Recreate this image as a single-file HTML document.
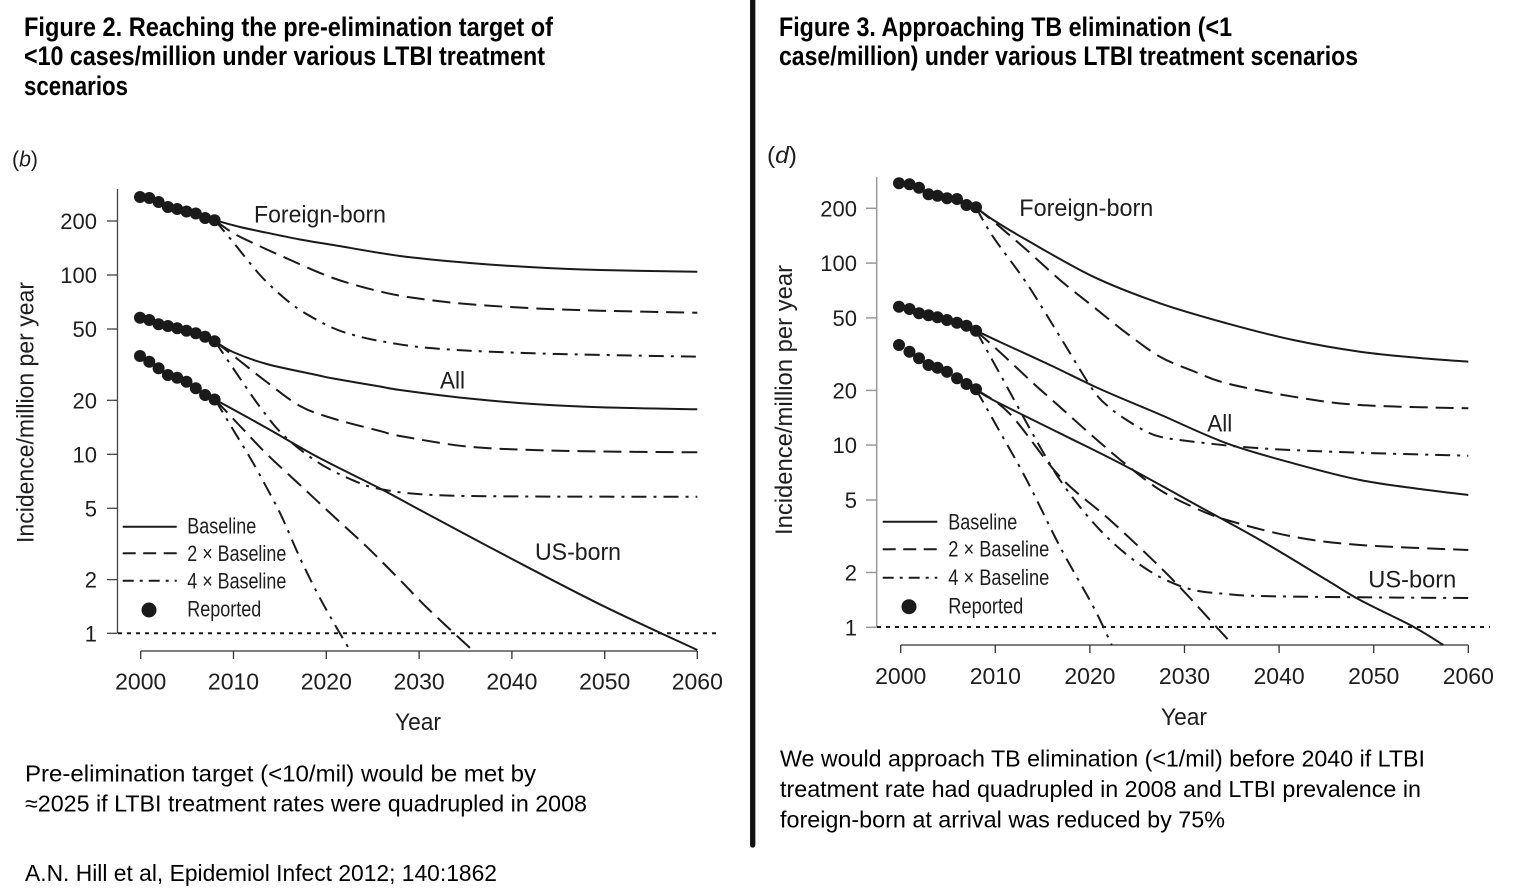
<!DOCTYPE html>
<html><head><meta charset="utf-8">
<style>
html,body{margin:0;padding:0;background:#fff;}
svg{display:block;}
text{font-family:"Liberation Sans",Arial,sans-serif;fill:#1e1e1e;}
.t{font-weight:bold;fill:#000;font-size:27px;}
.c{font-size:23px;fill:#000;}
.tk{font-size:22px;}
.xt{font-size:23px;}
.lg{font-size:22px;}
.sl{font-size:24px;}
.ln{fill:none;stroke:#1a1a1a;stroke-width:2;stroke-linejoin:round;stroke-linecap:butt;}
.da{stroke-dasharray:18 8;}
.dd{stroke-dasharray:15 7 3 7;}
.dot{fill:#1a1a1a;}
</style></head>
<body>
<svg id="chart" width="1524" height="894" viewBox="0 0 1524 894" xmlns="http://www.w3.org/2000/svg">
<rect width="1524" height="894" fill="#fff"/>

<!-- Titles -->
<text class="t" x="24" y="36" textLength="529" lengthAdjust="spacingAndGlyphs">Figure 2. Reaching the pre-elimination target of</text>
<text class="t" x="24" y="65" textLength="521" lengthAdjust="spacingAndGlyphs">&lt;10 cases/million under various LTBI treatment</text>
<text class="t" x="24" y="95" textLength="104" lengthAdjust="spacingAndGlyphs">scenarios</text>
<text class="t" x="779" y="36" textLength="453" lengthAdjust="spacingAndGlyphs">Figure 3. Approaching TB elimination (&lt;1</text>
<text class="t" x="779" y="65" textLength="579" lengthAdjust="spacingAndGlyphs">case/million) under various LTBI treatment scenarios</text>

<!-- Divider -->
<line x1="752.7" y1="0" x2="752.7" y2="845" stroke="#111" stroke-width="5.3" stroke-linecap="round"/>

<!-- ============ LEFT CHART ============ -->
<text x="12" y="166.7" font-size="22" textLength="26" lengthAdjust="spacingAndGlyphs">(<tspan font-style="italic">b</tspan>)</text>

<g stroke="#444" stroke-width="1.3">
<line x1="117.5" y1="189" x2="117.5" y2="633.3"/>
<line x1="107" y1="221" x2="117.5" y2="221"/>
<line x1="107" y1="275" x2="117.5" y2="275"/>
<line x1="107" y1="329" x2="117.5" y2="329"/>
<line x1="107" y1="400.3" x2="117.5" y2="400.3"/>
<line x1="107" y1="454.3" x2="117.5" y2="454.3"/>
<line x1="107" y1="508.3" x2="117.5" y2="508.3"/>
<line x1="107" y1="579.6" x2="117.5" y2="579.6"/>
<line x1="107" y1="633.3" x2="117.5" y2="633.3"/>
</g>
<g text-anchor="end">
<text class="tk" x="97" y="229">200</text>
<text class="tk" x="97" y="283">100</text>
<text class="tk" x="97" y="337">50</text>
<text class="tk" x="97" y="408.3">20</text>
<text class="tk" x="97" y="462.3">10</text>
<text class="tk" x="97" y="516.3">5</text>
<text class="tk" x="97" y="587.6">2</text>
<text class="tk" x="97" y="641.3">1</text>
</g>
<text class="sl" transform="translate(33.5,412.5) rotate(-90)" text-anchor="middle" font-size="29" textLength="261" lengthAdjust="spacingAndGlyphs">Incidence/million per year</text>

<g stroke="#333" stroke-width="1.3">
<line x1="140.7" y1="651" x2="697.3" y2="651"/>
<line x1="140.7" y1="651" x2="140.7" y2="659"/>
<line x1="233.5" y1="651" x2="233.5" y2="659"/>
<line x1="326.3" y1="651" x2="326.3" y2="659"/>
<line x1="419.1" y1="651" x2="419.1" y2="659"/>
<line x1="511.9" y1="651" x2="511.9" y2="659"/>
<line x1="604.7" y1="651" x2="604.7" y2="659"/>
<line x1="697.3" y1="651" x2="697.3" y2="659"/>
</g>
<g text-anchor="middle">
<text class="xt" x="140.7" y="689.3">2000</text>
<text class="xt" x="233.5" y="689.3">2010</text>
<text class="xt" x="326.3" y="689.3">2020</text>
<text class="xt" x="419.1" y="689.3">2030</text>
<text class="xt" x="511.9" y="689.3">2040</text>
<text class="xt" x="604.7" y="689.3">2050</text>
<text class="xt" x="697.3" y="689.3">2060</text>
<text class="sl" x="418" y="730" textLength="46" lengthAdjust="spacingAndGlyphs">Year</text>
</g>

<line x1="118" y1="633.3" x2="718" y2="633.3" stroke="#1a1a1a" stroke-width="2" stroke-dasharray="4 5"/>

<polyline class="ln" points="215,220.3 240,227 266.7,232.7 300,239.5 333.3,245 400,256 466.7,262.7 533.3,267.3 600,270 697.3,271.7"/>
<polyline class="ln da" points="215,220.3 233,233 253,243 283,256.7 333,278 380,291.5 416.7,298.3 466.7,304 533.3,308.3 600,310.7 697.3,312.7"/>
<polyline class="ln dd" points="215,220.3 233,242 260,275 283,297 300,310 317,320 333,328 350,334 380,341 433,348.3 533,353.3 697.3,356.7"/>

<polyline class="ln" points="215,341.3 233,352 266.7,364 316.7,375 333.3,378.5 380,386.5 400,390 466.7,398.3 533.3,404 600,407.3 697.3,409.3"/>
<polyline class="ln da" points="215,341.3 240,361 266.7,382 300,406 333,418.5 380,431 400,436 466.7,446.5 533,450 600,451.5 697.3,452.3"/>
<polyline class="ln dd" points="215,341.3 233.3,368.5 260,407 283.3,435 316.7,461.5 350,479 380,489 433,495 533,496.5 697.3,496.7"/>

<polyline class="ln" points="215,399.5 266.7,428 316.7,456.5 380,488.5 420,510 512,559 604.7,606.7 697.3,650"/>
<polyline class="ln da" points="215,399.5 240,426 266.7,454 300,485 333.3,516 366.7,546.7 400,580 428.3,609 473.3,651"/>
<polyline class="ln dd" points="215,399.5 233.3,430 253.3,463.3 273.3,500 283.3,520 300,558 316.7,592 333.3,622 350.4,651"/>

<g class="dot">
<circle cx="140" cy="197" r="6"/><circle cx="149.3" cy="198" r="6"/><circle cx="158.6" cy="202" r="6"/><circle cx="167.9" cy="207" r="6"/><circle cx="177.2" cy="209" r="6"/><circle cx="186.5" cy="211.5" r="6"/><circle cx="195.8" cy="213.5" r="6"/><circle cx="205.1" cy="218" r="6"/><circle cx="214.6" cy="220.3" r="6"/>
<circle cx="140" cy="317.7" r="6"/><circle cx="149.3" cy="320" r="6"/><circle cx="158.6" cy="324.3" r="6"/><circle cx="167.9" cy="326" r="6"/><circle cx="177.2" cy="328.3" r="6"/><circle cx="186.5" cy="330.7" r="6"/><circle cx="195.8" cy="333.3" r="6"/><circle cx="205.1" cy="336.7" r="6"/><circle cx="214.6" cy="341.3" r="6"/>
<circle cx="140" cy="356" r="6"/><circle cx="149.3" cy="361.7" r="6"/><circle cx="158.6" cy="368.3" r="6"/><circle cx="167.9" cy="375" r="6"/><circle cx="177.2" cy="377.7" r="6"/><circle cx="186.5" cy="381.7" r="6"/><circle cx="195.8" cy="388.3" r="6"/><circle cx="205.1" cy="395" r="6"/><circle cx="214.6" cy="399.5" r="6"/>
</g>

<text class="sl" x="254" y="222.5" textLength="132" lengthAdjust="spacingAndGlyphs">Foreign-born</text>
<text class="sl" x="440" y="388.3" textLength="25" lengthAdjust="spacingAndGlyphs">All</text>
<text class="sl" x="535" y="560" textLength="86" lengthAdjust="spacingAndGlyphs">US-born</text>

<line class="ln" x1="122.7" y1="526.7" x2="176.7" y2="526.7"/>
<line class="ln" x1="122.7" y1="553.3" x2="176.7" y2="553.3" stroke-dasharray="13 7.5"/>
<line class="ln" x1="122.7" y1="580.7" x2="176.7" y2="580.7" stroke-dasharray="11 6 3 6"/>
<circle class="dot" cx="149" cy="610" r="7.5"/>
<text class="lg" x="187.3" y="533.3" textLength="69" lengthAdjust="spacingAndGlyphs">Baseline</text>
<text class="lg" x="187.3" y="561" textLength="99" lengthAdjust="spacingAndGlyphs">2 × Baseline</text>
<text class="lg" x="187.3" y="588.3" textLength="99" lengthAdjust="spacingAndGlyphs">4 × Baseline</text>
<text class="lg" x="187.3" y="616.7" textLength="74" lengthAdjust="spacingAndGlyphs">Reported</text>

<!-- ============ RIGHT CHART ============ -->
<text x="767" y="163" font-size="23" textLength="30" lengthAdjust="spacingAndGlyphs">(<tspan font-style="italic">d</tspan>)</text>

<g stroke="#999" stroke-width="1.5">
<line x1="876.7" y1="176.7" x2="876.7" y2="627.3"/>
<line x1="866" y1="208.3" x2="876.7" y2="208.3"/>
<line x1="866" y1="263.1" x2="876.7" y2="263.1"/>
<line x1="866" y1="317.9" x2="876.7" y2="317.9"/>
<line x1="866" y1="390.4" x2="876.7" y2="390.4"/>
<line x1="866" y1="445.1" x2="876.7" y2="445.1"/>
<line x1="866" y1="500" x2="876.7" y2="500"/>
<line x1="866" y1="572.5" x2="876.7" y2="572.5"/>
<line x1="866" y1="627.3" x2="876.7" y2="627.3"/>
</g>
<g text-anchor="end">
<text class="tk" x="857" y="216.3">200</text>
<text class="tk" x="857" y="271.1">100</text>
<text class="tk" x="857" y="325.9">50</text>
<text class="tk" x="857" y="398.4">20</text>
<text class="tk" x="857" y="453.1">10</text>
<text class="tk" x="857" y="508">5</text>
<text class="tk" x="857" y="580.5">2</text>
<text class="tk" x="857" y="635.3">1</text>
</g>
<text class="sl" transform="translate(792,400) rotate(-90)" text-anchor="middle" font-size="29" textLength="270" lengthAdjust="spacingAndGlyphs">Incidence/million per year</text>

<g stroke="#333" stroke-width="1.3">
<line x1="900.7" y1="645" x2="1468.3" y2="645"/>
<line x1="900.7" y1="645" x2="900.7" y2="653"/>
<line x1="995.3" y1="645" x2="995.3" y2="653"/>
<line x1="1089.9" y1="645" x2="1089.9" y2="653"/>
<line x1="1184.5" y1="645" x2="1184.5" y2="653"/>
<line x1="1279.1" y1="645" x2="1279.1" y2="653"/>
<line x1="1373.7" y1="645" x2="1373.7" y2="653"/>
<line x1="1468.3" y1="645" x2="1468.3" y2="653"/>
</g>
<g text-anchor="middle">
<text class="xt" x="900.7" y="684">2000</text>
<text class="xt" x="995.3" y="684">2010</text>
<text class="xt" x="1089.9" y="684">2020</text>
<text class="xt" x="1184.5" y="684">2030</text>
<text class="xt" x="1279.1" y="684">2040</text>
<text class="xt" x="1373.7" y="684">2050</text>
<text class="xt" x="1468.3" y="684">2060</text>
<text class="sl" x="1184" y="725" textLength="46" lengthAdjust="spacingAndGlyphs">Year</text>
</g>

<line x1="877" y1="627" x2="1490" y2="627" stroke="#1a1a1a" stroke-width="2" stroke-dasharray="4 5"/>

<polyline class="ln" points="976,207.3 993.3,220 1026.7,240 1093.3,276.7 1160,303.3 1226.7,323.3 1293.3,340 1360,351.7 1420,358 1468.3,361.7"/>
<polyline class="ln da" points="976,207.3 1000,227 1026.7,250 1060,280 1093.3,306.7 1126.7,333.3 1160,356.7 1193,371 1226.7,383.3 1293.3,396.7 1360,405 1468.3,408.3"/>
<polyline class="ln dd" points="976,207.3 993,236.7 1026.7,283.3 1060,336.7 1093,390 1110,408 1126.7,420 1143.3,430 1160,436.7 1193.3,441.7 1260,448.3 1360,452.7 1468.3,455.7"/>

<polyline class="ln" points="976,330.7 1000,342 1050,365 1100,389 1160,414.5 1226.7,443.3 1293.3,463.3 1360,480 1420,489 1468.3,495"/>
<polyline class="ln da" points="976,330.7 1003,355 1033.3,383.3 1060,407 1093.3,436.7 1126.7,465 1160,490 1193,507 1226.7,520 1293.3,536.7 1360,545 1468.3,550"/>
<polyline class="ln dd" points="976,330.7 1003.3,380 1026.7,423 1043,452 1060,480 1080,507 1100,530 1120,549 1143.3,567 1166,580 1193.3,590 1226,594 1260,596 1360,597.3 1468.3,598"/>

<polyline class="ln" points="976,389.3 993,400 1060,433.3 1126.7,466.7 1193.3,503.3 1260,540 1326.7,580 1360,600 1413.3,626.7 1443.3,645"/>
<polyline class="ln da" points="976,389.3 1010,414 1060,476.7 1110,520 1160,567 1190,598 1210,620 1233,645"/>
<polyline class="ln dd" points="976,389.3 1000,432 1026.7,480 1060,546.7 1093.3,606.7 1111.7,645"/>

<g class="dot">
<circle cx="899" cy="183.3" r="6"/><circle cx="909.5" cy="184.3" r="6"/><circle cx="919" cy="187.7" r="6"/><circle cx="928.5" cy="194.3" r="6"/><circle cx="937.5" cy="195.7" r="6"/><circle cx="947" cy="198.3" r="6"/><circle cx="957" cy="199" r="6"/><circle cx="966.5" cy="205" r="6"/><circle cx="976" cy="207.3" r="6"/>
<circle cx="899" cy="306.7" r="6"/><circle cx="909.5" cy="309" r="6"/><circle cx="919" cy="313.3" r="6"/><circle cx="928.5" cy="315.3" r="6"/><circle cx="937.5" cy="317.3" r="6"/><circle cx="947" cy="320" r="6"/><circle cx="957" cy="322.7" r="6"/><circle cx="966.5" cy="325.7" r="6"/><circle cx="976" cy="330.7" r="6"/>
<circle cx="899" cy="345" r="6"/><circle cx="909.5" cy="351.7" r="6"/><circle cx="919" cy="358.3" r="6"/><circle cx="928.5" cy="365" r="6"/><circle cx="937.5" cy="367.7" r="6"/><circle cx="947" cy="371.7" r="6"/><circle cx="957" cy="378.3" r="6"/><circle cx="966.5" cy="384" r="6"/><circle cx="976" cy="389.3" r="6"/>
</g>

<text class="sl" x="1019.3" y="216" textLength="134" lengthAdjust="spacingAndGlyphs">Foreign-born</text>
<text class="sl" x="1207.3" y="431.7" textLength="25" lengthAdjust="spacingAndGlyphs">All</text>
<text class="sl" x="1368.3" y="587.3" textLength="88" lengthAdjust="spacingAndGlyphs">US-born</text>

<line class="ln" x1="882.7" y1="521.7" x2="937.3" y2="521.7"/>
<line class="ln" x1="882.7" y1="549.3" x2="937.3" y2="549.3" stroke-dasharray="13 7.5"/>
<line class="ln" x1="882.7" y1="577.7" x2="937.3" y2="577.7" stroke-dasharray="11 6 3 6"/>
<circle class="dot" cx="909" cy="606.7" r="7.5"/>
<text class="lg" x="948.3" y="529.3" textLength="69" lengthAdjust="spacingAndGlyphs">Baseline</text>
<text class="lg" x="948.3" y="556.7" textLength="101" lengthAdjust="spacingAndGlyphs">2 × Baseline</text>
<text class="lg" x="948.3" y="585" textLength="101" lengthAdjust="spacingAndGlyphs">4 × Baseline</text>
<text class="lg" x="948.3" y="613.3" textLength="75" lengthAdjust="spacingAndGlyphs">Reported</text>

<!-- Captions -->
<text class="c" x="25" y="781.5" textLength="511" lengthAdjust="spacingAndGlyphs">Pre-elimination target (&lt;10/mil) would be met by</text>
<text class="c" x="25" y="811.5" textLength="562" lengthAdjust="spacingAndGlyphs">≈2025 if LTBI treatment rates were quadrupled in 2008</text>
<text class="c" x="25" y="881" textLength="472" lengthAdjust="spacingAndGlyphs">A.N. Hill et al, Epidemiol Infect 2012; 140:1862</text>

<text class="c" x="780" y="766.7" textLength="645" lengthAdjust="spacingAndGlyphs">We would approach TB elimination (&lt;1/mil) before 2040 if LTBI</text>
<text class="c" x="780" y="797" textLength="641" lengthAdjust="spacingAndGlyphs">treatment rate had quadrupled in 2008 and LTBI prevalence in</text>
<text class="c" x="780" y="827.3" textLength="445" lengthAdjust="spacingAndGlyphs">foreign-born at arrival was reduced by 75%</text>
</svg>
<script>
(function(){
  var ns="http://www.w3.org/2000/svg";
  var pls=document.querySelectorAll("polyline.ln");
  for(var k=0;k<pls.length;k++){
    var pl=pls[k];
    var raw=pl.getAttribute("points").trim().split(/\s+/).map(function(s){var a=s.split(",");return [parseFloat(a[0]),parseFloat(a[1])];});
    if(raw.length<3) continue;
    var d="M"+raw[0][0]+","+raw[0][1];
    for(var i=0;i<raw.length-1;i++){
      var p0=raw[i>0?i-1:i],p1=raw[i],p2=raw[i+1],p3=raw[i+2<raw.length?i+2:i+1];
      var c1x=p1[0]+(p2[0]-p0[0])/6,c1y=p1[1]+(p2[1]-p0[1])/6;
      var c2x=p2[0]-(p3[0]-p1[0])/6,c2y=p2[1]-(p3[1]-p1[1])/6;
      d+=" C"+c1x.toFixed(2)+","+c1y.toFixed(2)+" "+c2x.toFixed(2)+","+c2y.toFixed(2)+" "+p2[0]+","+p2[1];
    }
    var path=document.createElementNS(ns,"path");
    path.setAttribute("d",d);
    path.setAttribute("class",pl.getAttribute("class"));
    pl.parentNode.replaceChild(path,pl);
  }
})();
</script>
</body></html>
